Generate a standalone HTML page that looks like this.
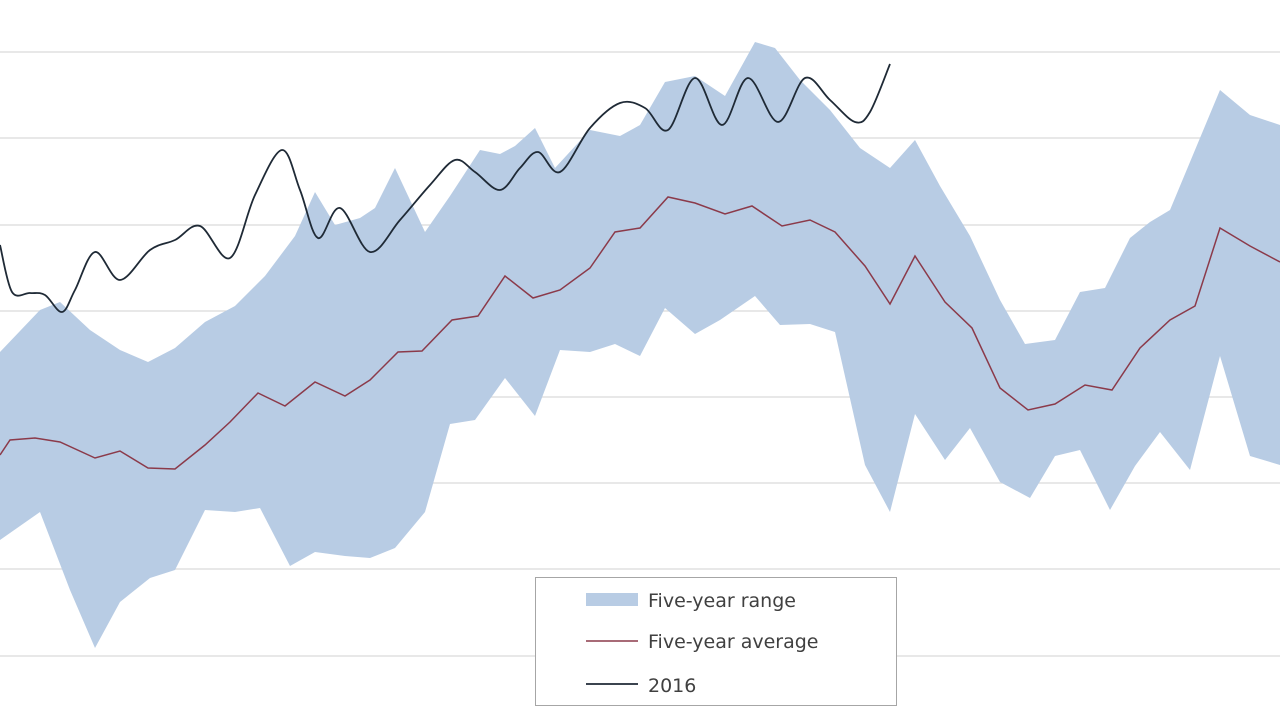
<!DOCTYPE html>
<html><head><meta charset="utf-8"><style>
html,body{margin:0;padding:0;background:#fff;}
svg{display:block;}
text{font-family:"DejaVu Sans","Liberation Sans",sans-serif;}
</style></head><body>
<svg width="1280" height="720" viewBox="0 0 1280 720" xmlns="http://www.w3.org/2000/svg">
<rect width="1280" height="720" fill="#fff"/>
<g stroke="#d9d9d9" stroke-width="1.2">
<line x1="0" y1="52" x2="1280" y2="52"/><line x1="0" y1="138" x2="1280" y2="138"/>
<line x1="0" y1="225" x2="1280" y2="225"/><line x1="0" y1="311" x2="1280" y2="311"/>
<line x1="0" y1="397" x2="1280" y2="397"/><line x1="0" y1="483" x2="1280" y2="483"/>
<line x1="0" y1="569" x2="1280" y2="569"/><line x1="0" y1="656" x2="1280" y2="656"/>
</g>
<polygon fill="#b8cce4" points="0,352 40,310 60,302 90,330 120,350 148,362 175,348 205,322 235,306 265,276 295,236 315,192 335,225 360,218 375,208 395,168 425,232 450,196 480,150 500,154 515,146 535,128 555,168 590,130 620,136 640,125 665,82 695,76 725,96 755,42 775,48 800,80 830,110 860,148 890,168 915,140 940,186 970,236 1000,300 1025,344 1055,340 1080,292 1105,288 1130,238 1150,222 1170,210 1195,150 1220,90 1250,115 1280,125 1280,465 1250,456 1220,356 1190,470 1160,432 1135,466 1110,510 1080,450 1055,456 1030,498 1000,482 970,428 945,460 915,414 890,512 865,465 835,332 810,324 780,325 755,296 720,320 695,334 665,308 640,356 615,344 590,352 560,350 535,416 505,378 475,420 450,424 425,512 395,548 370,558 345,556 315,552 290,566 260,508 235,512 205,510 175,570 150,578 120,602 95,648 70,590 40,512 0,540"/>
<polyline fill="none" stroke="#8b3a4a" stroke-width="1.5" points="0,455 10,440 35,438 60,442 95,458 120,451 148,468 175,469 205,445 230,422 258,393 285,406 315,382 345,396 370,380 398,352 422,351 452,320 478,316 505,276 533,298 560,290 590,268 615,232 640,228 668,197 695,203 725,214 752,206 782,226 810,220 835,232 865,266 890,304 915,256 945,302 972,328 1000,388 1028,410 1055,404 1085,385 1112,390 1140,348 1170,320 1195,306 1220,228 1250,246 1280,262"/>
<path id="l16" fill="none" stroke="#1f2a36" stroke-width="1.8" d=""/>
<rect x="535.5" y="577.5" width="361" height="128" fill="#fff" stroke="#a6a6a6"/>
<rect x="586" y="593" width="52" height="13" fill="#b8cce4"/>
<text x="648" y="607" font-size="19" fill="#404040">Five-year range</text>
<line x1="586" y1="641" x2="638" y2="641" stroke="#8b3a4a" stroke-width="1.5"/>
<text x="648" y="648" font-size="19" fill="#404040">Five-year average</text>
<line x1="586" y1="684" x2="638" y2="684" stroke="#1f2a36" stroke-width="1.8"/>
<text x="648" y="692" font-size="19" fill="#404040">2016</text>
</svg>
<script>
var p=[[0,245],[12,292],[30,293],[45,295],[62,312],[75,290],[95,252],[120,280],[150,250],[175,240],[200,226],[230,258],[255,195],[282,150],[300,190],[318,238],[340,208],[370,252],[400,220],[430,185],[455,160],[475,172],[500,190],[520,168],[538,152],[560,172],[590,128],[620,103],[645,108],[668,130],[695,78],[722,125],[748,78],[778,122],[805,78],[830,100],[855,122],[870,112],[890,64]];
var d="M"+p[0][0]+","+p[0][1];
for(var i=0;i<p.length-1;i++){var a=p[Math.max(i-1,0)],b=p[i],c=p[i+1],e=p[Math.min(i+2,p.length-1)];var t=6;
d+=" C"+(b[0]+(c[0]-a[0])/t)+","+(b[1]+(c[1]-a[1])/t)+" "+(c[0]-(e[0]-b[0])/t)+","+(c[1]-(e[1]-b[1])/t)+" "+c[0]+","+c[1];}
document.getElementById("l16").setAttribute("d",d);
</script>
</body></html>
